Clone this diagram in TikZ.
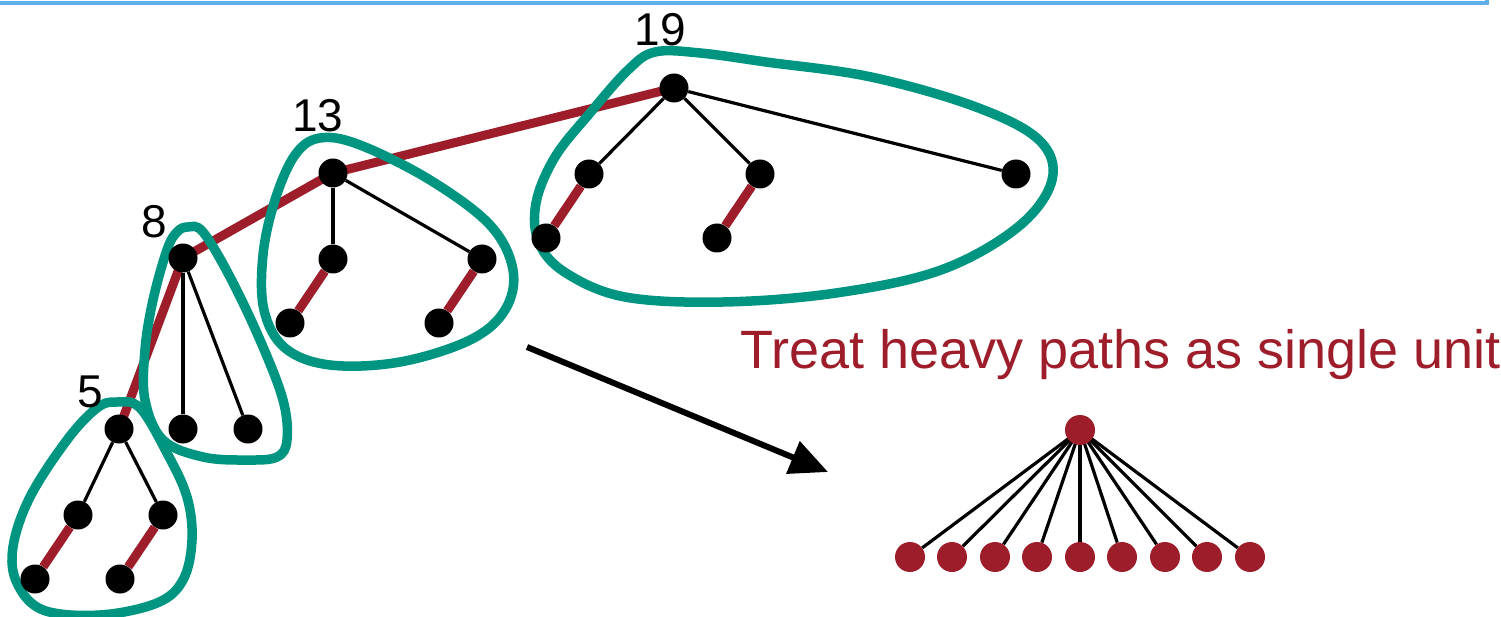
\documentclass[tikz,border=0pt]{standalone}
\usepackage{fontspec}
\setmainfont{Liberation Sans}
\usetikzlibrary{arrows.meta}
\definecolor{heavy}{RGB}{158,29,42}
\definecolor{hull}{RGB}{0,149,128}
\definecolor{frameblue}{RGB}{97,175,234}
\pgfdeclarelayer{edges}
\pgfdeclarelayer{hulls}
\pgfsetlayers{edges,hulls,main}
\tikzset{
  dot/.style={circle,fill=black,inner sep=0pt,minimum size=29pt},
  rdot/.style={circle,fill=heavy,inner sep=0pt,minimum size=30pt},
  light/.style={draw=black,line width=3.2pt},
  heavyedge/.style={draw=heavy,line width=9pt},
  hullline/.style={draw=hull,line width=9.5pt},
  size/.style={font=\fontsize{46}{46}\selectfont},
}
\begin{document}
\begin{tikzpicture}[x=1pt,y=-1pt]
\useasboundingbox (0,0) rectangle (1501,617);
\begin{scope}
\clip (0,0) rectangle (1501,617);
\draw[frameblue,line width=4pt] (-20,-30) rectangle (1487,3);
\end{scope}

% subtree of size 19
\node[dot] (a0) at (674,88) {};
\node[dot] (a1) at (589,174) {};
\node[dot] (a2) at (760,174) {};
\node[dot] (a3) at (1016,174) {};
\node[dot] (a4) at (546,238) {};
\node[dot] (a5) at (717,238) {};
% subtree of size 13
\node[dot] (b0) at (333,173) {};
\node[dot] (b1) at (333,259) {};
\node[dot] (b2) at (482,259) {};
\node[dot] (b3) at (290,323) {};
\node[dot] (b4) at (439,323) {};
% subtree of size 8
\node[dot] (c0) at (183,258) {};
\node[dot] (c1) at (183,429) {};
\node[dot] (c2) at (248,429) {};
% subtree of size 5
\node[dot] (d0) at (119,429) {};
\node[dot] (d1) at (78,515) {};
\node[dot] (d2) at (163,515) {};
\node[dot] (d3) at (35,579) {};
\node[dot] (d4) at (120,579) {};

% sizes
\node[size] (l19) at (660,30) {19};
\node[size] (l13) at (318,116) {13};
\node[size] (l8) at (154,222) {8};
\node[size] (l5) at (90,392) {5};

\begin{pgfonlayer}{edges}
  \draw[heavyedge] (d0.center) -- (c0.center) -- (b0.center) -- (a0.center);
  \draw[heavyedge] (a1) -- (a4);
  \draw[heavyedge] (a2) -- (a5);
  \draw[heavyedge] (b1) -- (b3);
  \draw[heavyedge] (b2) -- (b4);
  \draw[heavyedge] (d1) -- (d3);
  \draw[heavyedge] (d2) -- (d4);
  \draw[light] (a0) -- (a1);
  \draw[light] (a0) -- (a2);
  \draw[light] (a0) -- (a3);
  \draw[light] (b0) -- (b1);
  \draw[light] (b0) -- (b2);
  \draw[light] (c0) -- (c1);
  \draw[light] (c0) -- (c2);
  \draw[light] (d0) -- (d1);
  \draw[light] (d0) -- (d2);
\end{pgfonlayer}

\begin{pgfonlayer}{hulls}
  \draw[hullline] plot[smooth cycle,tension=0.6] coordinates {
    (655,52) (700,53) (766,62) (871,77) (976,107) (1039,140) (1052,180)
    (1018,227) (941,270) (836,293) (723,302) (625,297) (566,273) (539,243)
    (536,203) (555,157) (590,113) (628,70)};
  \draw[hullline] plot[smooth cycle,tension=0.6] coordinates {
    (320,138) (360,145) (430,180) (490,225) (513,270) (505,310) (470,340)
    (400,362) (330,365) (285,348) (264,310) (263,255) (275,200) (295,155)};
  \draw[hullline] plot[smooth cycle,tension=0.6] coordinates {
    (188,227) (203,232) (230,277) (260,340) (283,400) (287,440) (277,457)
    (247,460) (203,457) (163,440) (145,400) (145,350) (153,300) (167,250)
    (177,232)};
  \draw[hullline] plot[smooth cycle,tension=0.6] coordinates {
    (117,402) (140,408) (167,453) (187,497) (192,540) (183,580) (157,603)
    (100,615) (43,610) (17,583) (13,547) (30,497) (67,440) (97,408)};
\end{pgfonlayer}

% contraction arrow and caption
\coordinate (arrS) at (527,347);
\coordinate (arrE) at (828,472);
\draw[line width=6pt,-{Triangle[length=38pt,width=34pt]}] (arrS) -- (arrE);
\node[heavy,anchor=base west,font=\fontsize{54}{54}\selectfont,inner sep=0pt]
  (cap) at (740,368) {Treat heavy paths as single unit};

% contracted tree
\node[rdot] (r) at (1080,430) {};
\foreach \i/\x in {1/910,2/952,3/995,4/1037,5/1080,6/1122,7/1165,8/1207,9/1250}{
  \node[rdot] (s\i) at (\x,557) {};
  \begin{pgfonlayer}{edges}
    \draw[light] (r.center) -- (s\i);
  \end{pgfonlayer}
}
\end{tikzpicture}
\end{document}
